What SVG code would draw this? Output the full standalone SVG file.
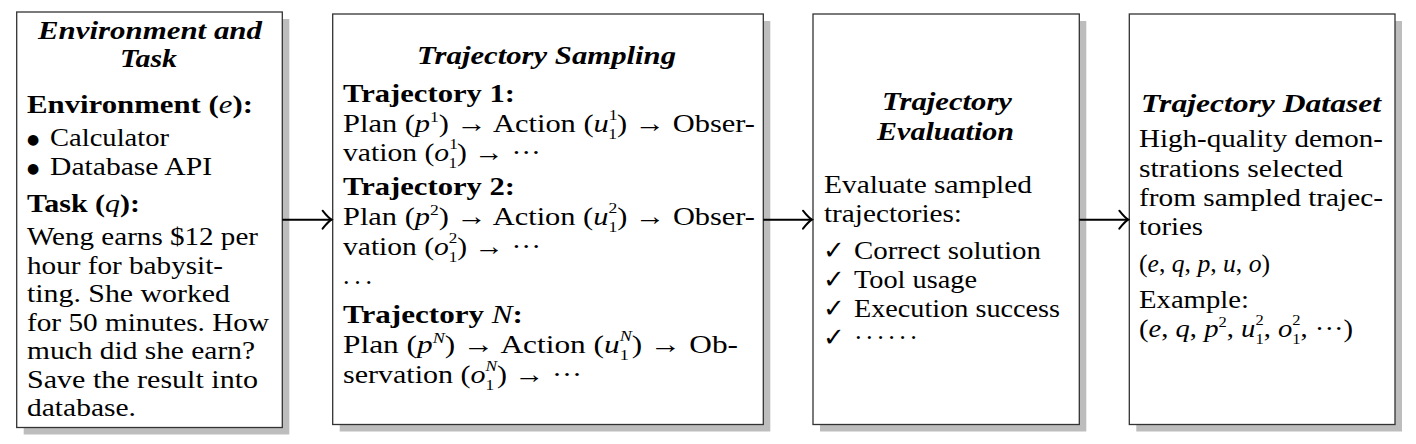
<svg xmlns="http://www.w3.org/2000/svg" width="1416" height="444" viewBox="0 0 1416 444">
<defs>
<style>
.shadow{fill:#bdbdbd}
.box{fill:#fff;stroke:#333;stroke-width:1.3}
.t{font-family:"Liberation Serif","DejaVu Serif",serif;font-size:26px;fill:#000}
.b{font-weight:bold}
.bi{font-weight:bold;font-style:italic}
.mi{font-style:italic;font-weight:normal}
.s{font-size:15px}
.bul{font-family:"DejaVu Sans",sans-serif;font-size:14px;fill:#000}
.ck{font-family:"DejaVu Sans",sans-serif;font-size:26px;fill:#000}
.conn{stroke:#000;stroke-width:2;fill:none}
</style>
<marker id="arr" markerUnits="userSpaceOnUse" markerWidth="14" markerHeight="22" refX="11" refY="11" orient="auto" overflow="visible">
<path d="M2,2 Q7.5,9 11,11 Q7.5,13 2,20" fill="none" stroke="#000" stroke-width="2" stroke-linecap="round"/>
</marker>
</defs>
<rect width="1416" height="444" fill="#fff"/>

<g id="node-env">
<rect class="shadow" x="23.7" y="19" width="265.6" height="415.5"/>
<rect class="box" x="16.7" y="12" width="265.6" height="415.5"/>
<text class="t bi" x="38" y="39" textLength="224" lengthAdjust="spacingAndGlyphs">Environment and</text>
<text class="t bi" x="120" y="67" textLength="57" lengthAdjust="spacingAndGlyphs">Task</text>
<text class="t b" x="27" y="113" textLength="226" lengthAdjust="spacingAndGlyphs">Environment (<tspan class="mi">e</tspan>):</text>
<text class="bul" x="27" y="144">●</text>
<text class="t" x="50" y="146" textLength="119" lengthAdjust="spacingAndGlyphs">Calculator</text>
<text class="bul" x="27" y="173">●</text>
<text class="t" x="50" y="175" textLength="162" lengthAdjust="spacingAndGlyphs">Database API</text>
<text class="t b" x="27" y="212" textLength="113" lengthAdjust="spacingAndGlyphs">Task (<tspan class="mi">q</tspan>):</text>
<text class="t" x="27" y="245" textLength="231" lengthAdjust="spacingAndGlyphs">Weng earns $12 per</text>
<text class="t" x="27" y="273.5" textLength="196" lengthAdjust="spacingAndGlyphs">hour for babysit-</text>
<text class="t" x="27" y="302" textLength="203" lengthAdjust="spacingAndGlyphs">ting. She worked</text>
<text class="t" x="27" y="330.5" textLength="242" lengthAdjust="spacingAndGlyphs">for 50 minutes. How</text>
<text class="t" x="27" y="359" textLength="228" lengthAdjust="spacingAndGlyphs">much did she earn?</text>
<text class="t" x="27" y="387.5" textLength="231" lengthAdjust="spacingAndGlyphs">Save the result into</text>
<text class="t" x="27" y="416" textLength="109" lengthAdjust="spacingAndGlyphs">database.</text>
</g>

<g id="node-sampling">
<rect class="shadow" x="339.7" y="21" width="430.6" height="410.5"/>
<rect class="box" x="332.7" y="14" width="430.6" height="410.5"/>
<text class="t bi" x="417" y="64" textLength="259" lengthAdjust="spacingAndGlyphs">Trajectory Sampling</text>
<text class="t b" x="343" y="101.7" textLength="172" lengthAdjust="spacingAndGlyphs">Trajectory 1:</text>
<text class="t" x="343" y="132" textLength="412" lengthAdjust="spacingAndGlyphs">Plan (<tspan class="mi">p</tspan><tspan class="s" style="baseline-shift:10px">1</tspan>) → Action (<tspan class="mi">u</tspan><tspan class="s" style="baseline-shift:12px">1</tspan><tspan class="s" dx="-7.5" style="baseline-shift:-6.5px">1</tspan>) → Obser-</text>
<text class="t" x="343" y="161" textLength="198" lengthAdjust="spacingAndGlyphs">vation (<tspan class="mi">o</tspan><tspan class="s" style="baseline-shift:12px">1</tspan><tspan class="s" dx="-7.5" style="baseline-shift:-6.5px">1</tspan>) → ···</text>
<text class="t b" x="343" y="195" textLength="172" lengthAdjust="spacingAndGlyphs">Trajectory 2:</text>
<text class="t" x="343" y="225" textLength="412" lengthAdjust="spacingAndGlyphs">Plan (<tspan class="mi">p</tspan><tspan class="s" style="baseline-shift:10px">2</tspan>) → Action (<tspan class="mi">u</tspan><tspan class="s" style="baseline-shift:12px">2</tspan><tspan class="s" dx="-7.5" style="baseline-shift:-6.5px">1</tspan>) → Obser-</text>
<text class="t" x="343" y="255" textLength="198" lengthAdjust="spacingAndGlyphs">vation (<tspan class="mi">o</tspan><tspan class="s" style="baseline-shift:12px">2</tspan><tspan class="s" dx="-7.5" style="baseline-shift:-6.5px">1</tspan>) → ···</text>
<text class="t" x="343" y="284" textLength="29" lengthAdjust="spacing">...</text>
<text class="t b" x="343" y="323" textLength="180" lengthAdjust="spacingAndGlyphs">Trajectory <tspan class="mi">N</tspan>:</text>
<text class="t" x="343" y="353" textLength="395" lengthAdjust="spacingAndGlyphs">Plan (<tspan class="mi">p</tspan><tspan class="s mi" style="baseline-shift:10px">N</tspan>) → Action (<tspan class="mi">u</tspan><tspan class="s mi" style="baseline-shift:12px">N</tspan><tspan class="s" dx="-10" style="baseline-shift:-6.5px">1</tspan><tspan dx="2.5">) → Ob-</tspan></text>
<text class="t" x="343" y="383" textLength="239" lengthAdjust="spacingAndGlyphs">servation (<tspan class="mi">o</tspan><tspan class="s mi" style="baseline-shift:12px">N</tspan><tspan class="s" dx="-10" style="baseline-shift:-6.5px">1</tspan><tspan dx="2.5">) → ···</tspan></text>
</g>

<g id="node-evaluation">
<rect class="shadow" x="820" y="21" width="266.3" height="410.5"/>
<rect class="box" x="813" y="14" width="266.3" height="410.5"/>
<text class="t bi" x="882" y="110" textLength="130" lengthAdjust="spacingAndGlyphs">Trajectory</text>
<text class="t bi" x="877" y="140" textLength="137" lengthAdjust="spacingAndGlyphs">Evaluation</text>
<text class="t" x="824" y="193" textLength="208" lengthAdjust="spacingAndGlyphs">Evaluate sampled</text>
<text class="t" x="824" y="222" textLength="138" lengthAdjust="spacingAndGlyphs">trajectories:</text>
<text class="ck" x="823" y="259">✓</text>
<text class="t" x="854" y="259" textLength="187" lengthAdjust="spacingAndGlyphs">Correct solution</text>
<text class="ck" x="823" y="287.5">✓</text>
<text class="t" x="854" y="287.5" textLength="123" lengthAdjust="spacingAndGlyphs">Tool usage</text>
<text class="ck" x="823" y="316.5">✓</text>
<text class="t" x="854" y="316.5" textLength="206" lengthAdjust="spacingAndGlyphs">Execution success</text>
<text class="ck" x="823" y="345.5">✓</text>
<text class="t" x="854" y="345.5" textLength="64" lengthAdjust="spacing">······</text>
</g>

<g id="node-dataset">
<rect class="shadow" x="1136.3" y="21" width="265.7" height="410.5"/>
<rect class="box" x="1129.3" y="14" width="265.7" height="410.5"/>
<text class="t bi" x="1141" y="112" textLength="240" lengthAdjust="spacingAndGlyphs">Trajectory Dataset</text>
<text class="t" x="1139" y="147" textLength="244" lengthAdjust="spacingAndGlyphs">High-quality demon-</text>
<text class="t" x="1139" y="176.5" textLength="204" lengthAdjust="spacingAndGlyphs">strations selected</text>
<text class="t" x="1139" y="205.5" textLength="244" lengthAdjust="spacingAndGlyphs">from sampled trajec-</text>
<text class="t" x="1139" y="234.5" textLength="64" lengthAdjust="spacingAndGlyphs">tories</text>
<text class="t" x="1139" y="272" textLength="131" lengthAdjust="spacingAndGlyphs">(<tspan class="mi">e</tspan>, <tspan class="mi">q</tspan>, <tspan class="mi">p</tspan>, <tspan class="mi">u</tspan>, <tspan class="mi">o</tspan>)</text>
<text class="t" x="1139" y="307.5" textLength="110" lengthAdjust="spacingAndGlyphs">Example:</text>
<text class="t" x="1139" y="337" textLength="214" lengthAdjust="spacingAndGlyphs">(<tspan class="mi">e</tspan>, <tspan class="mi">q</tspan>, <tspan class="mi">p</tspan><tspan class="s" style="baseline-shift:10px">2</tspan>, <tspan class="mi">u</tspan><tspan class="s" style="baseline-shift:12px">2</tspan><tspan class="s" dx="-7.5" style="baseline-shift:-6.5px">1</tspan>, <tspan class="mi">o</tspan><tspan class="s" style="baseline-shift:12px">2</tspan><tspan class="s" dx="-7.5" style="baseline-shift:-6.5px">1</tspan>, ···)</text>
</g>

<g id="connectors">
<line class="conn" x1="282.3" y1="219.7" x2="331.6" y2="219.7" marker-end="url(#arr)"/>
<line class="conn" x1="763.3" y1="219.7" x2="812" y2="219.7" marker-end="url(#arr)"/>
<line class="conn" x1="1079.3" y1="219.7" x2="1128.3" y2="219.7" marker-end="url(#arr)"/>
</g>
</svg>
